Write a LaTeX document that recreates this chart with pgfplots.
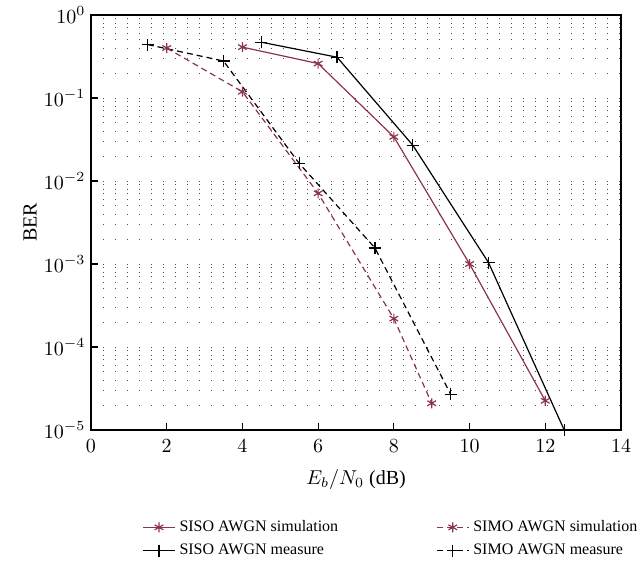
\documentclass[border=0pt]{standalone}
\usepackage{fontspec}
\setmainfont{Liberation Serif}
\usepackage{pgfplots}
\pgfplotsset{compat=1.18}
\definecolor{wine}{RGB}{140,52,72}
\begin{document}
\fontsize{8}{10}\selectfont
\begin{tikzpicture}
\useasboundingbox (-45.5pt,-68.5pt) rectangle (275pt,215pt);
\begin{axis}[
  at={(0,0)}, anchor=south west,
  scale only axis, width=265pt, height=207.5pt,
  xmin=0, xmax=14, ymode=log, ymin=1e-5, ymax=1,
  xtick={0,2,...,14},
  ytick={1e-5,1e-4,1e-3,1e-2,1e-1,1},
  tick align=inside, xtick pos=bottom, ytick pos=left,
  major tick length=3.5pt, minor tick length=0pt,
  ymajorgrids, yminorgrids,
  major grid style={dash pattern=on 0.5pt off 5.5pt, black!70, line width=0.5pt},
  minor grid style={dash pattern=on 0.5pt off 5.5pt, black!70, line width=0.5pt},
  axis line style={line width=0.6pt},
  tick style={line width=0.6pt, black},
  tick label style={font=\fontsize{10}{12}\selectfont},
  xticklabel style={yshift=-2pt},
  label style={font=\fontsize{10}{12}\selectfont},
  xlabel={$E_b/N_0$ (dB)},
  xlabel style={yshift=-3pt},
  ylabel={BER},
  ylabel style={yshift=-2pt},
  legend columns=2,
  legend cell align=left,
  legend style={draw=none, fill=none, at={(0.085,-0.198)}, anchor=north west,
    font=\fontsize{8}{10}\selectfont, row sep=1pt,
    /tikz/every even column/.append style={column sep=47pt}},
  legend image code/.code={
    \draw[mark repeat=2,mark phase=2,#1] plot coordinates {(0cm,0cm) (0.28cm,0cm) (0.56cm,0cm)};
  },
]
\addplot[wine, line width=0.6pt, mark=asterisk, mark size=2.5pt] coordinates {
 (4,0.41) (6,0.26) (8,0.034) (10,0.001) (12,2.25e-5)};
\addlegendentry{SISO AWGN simulation}
\addplot[wine, line width=0.6pt, dash pattern=on 3pt off 2pt, mark=asterisk, mark size=2.5pt, mark options={solid}] coordinates {
 (2,0.40) (4,0.119) (6,0.0071) (8,2.2e-4) (9,2.1e-5)};
\addlegendentry{SIMO AWGN simulation}
\addplot[black, line width=0.6pt, mark=+, mark size=3pt] coordinates {
 (4.5,0.47) (6.5,0.31) (8.5,0.027) (10.5,0.00104) (12.5,1e-5)};
\addlegendentry{SISO AWGN measure}
\addplot[black, line width=0.6pt, dash pattern=on 3pt off 2pt, mark=+, mark size=3pt, mark options={solid}] coordinates {
 (1.5,0.44) (3.5,0.279) (5.5,0.0163) (7.5,0.00156) (9.5,2.7e-5)};
\addlegendentry{SIMO AWGN measure}
\end{axis}
\end{tikzpicture}
\end{document}
